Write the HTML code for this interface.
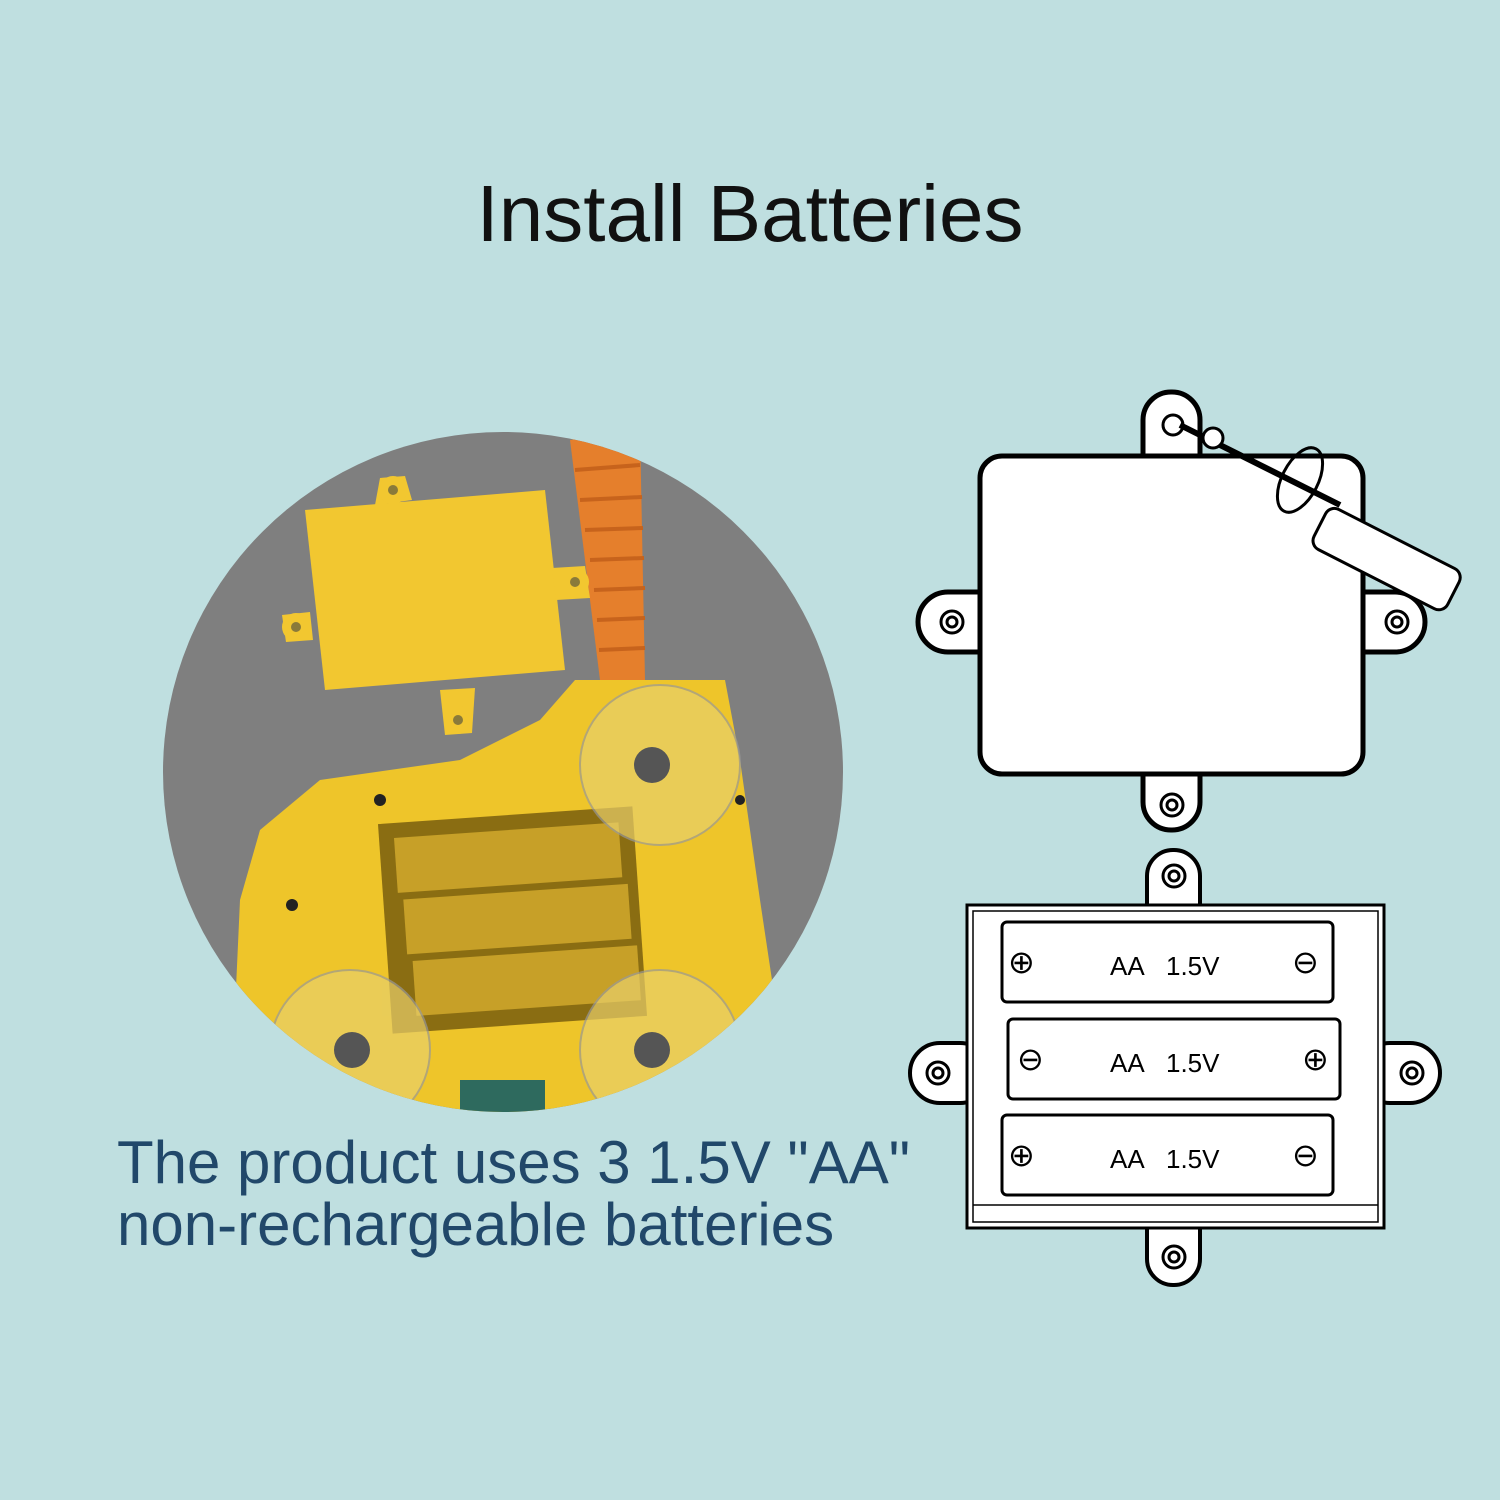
<!DOCTYPE html>
<html><head><style>
html,body{margin:0;padding:0;background:#bfdfe0;}
body{width:1500px;height:1500px;position:relative;overflow:hidden;font-family:"Liberation Sans",sans-serif;}
.t{position:absolute;left:0;width:1500px;text-align:center;top:168px;font-size:80px;color:#111;}
.b{position:absolute;left:117px;top:1132px;font-size:60px;line-height:62px;color:#21486a;}
svg{position:absolute;left:0;top:0}
</style></head><body>
<svg width="1500" height="1500" viewBox="0 0 1500 1500">
<defs><clipPath id="c"><circle cx="503" cy="772" r="340"/></clipPath></defs>
<circle cx="503" cy="772" r="340" fill="#7f7f7f"/>
<g clip-path="url(#c)">
 <path d="M570 440 L640 430 L645 680 L600 680 Z" fill="#e57f2c"/>
 <g stroke="#c7631c" stroke-width="4">
  <line x1="575" y1="470" x2="640" y2="465"/><line x1="580" y1="500" x2="642" y2="497"/>
  <line x1="585" y1="530" x2="643" y2="528"/><line x1="590" y1="560" x2="644" y2="558"/>
  <line x1="594" y1="590" x2="645" y2="588"/><line x1="597" y1="620" x2="645" y2="618"/>
  <line x1="599" y1="650" x2="645" y2="648"/>
 </g>
 <path d="M575 680 L725 680 L740 760 L760 900 L775 1000 L760 1120 L230 1120 L240 900 L260 830 L320 780 L460 760 L540 720 Z" fill="#eec52a"/>
 <rect x="385" y="815" width="255" height="210" fill="#8a6d12" transform="rotate(-4 512 920)"/>
 <rect x="400" y="830" width="225" height="55" fill="#c7a028" transform="rotate(-4 512 920)"/>
 <rect x="405" y="892" width="225" height="55" fill="#c7a028" transform="rotate(-4 512 920)"/>
 <rect x="410" y="954" width="225" height="55" fill="#c7a028" transform="rotate(-4 512 920)"/>
 <path d="M460 1080 L545 1080 L545 1120 L460 1120 Z" fill="#2e6a5e"/>
 <circle cx="660" cy="765" r="80" fill="#e8cf6a" opacity="0.7" stroke="#999" stroke-width="2"/>
 <circle cx="350" cy="1050" r="80" fill="#e8cf6a" opacity="0.7" stroke="#999" stroke-width="2"/>
 <circle cx="660" cy="1050" r="80" fill="#e8cf6a" opacity="0.7" stroke="#999" stroke-width="2"/>
 <circle cx="652" cy="765" r="18" fill="#555"/><circle cx="352" cy="1050" r="18" fill="#555"/><circle cx="652" cy="1050" r="18" fill="#555"/>
 <g fill="#222"><circle cx="380" cy="800" r="6"/><circle cx="292" cy="905" r="6"/><circle cx="740" cy="800" r="5"/></g>
 <path d="M305 510 L545 490 L565 670 L325 690 Z" fill="#f2c730"/>
 <path d="M375 505 L380 478 L405 476 L412 500 Z" fill="#f2c730"/>
 <path d="M552 568 L585 566 L590 598 L556 600 Z" fill="#f2c730"/>
 <path d="M310 612 L282 615 L286 642 L313 640 Z" fill="#f2c730"/>
 <path d="M440 690 L475 688 L472 733 L445 735 Z" fill="#f2c730"/>
 <circle cx="393" cy="490" r="14" fill="#f2c730"/><circle cx="575" cy="582" r="14" fill="#f2c730"/>
 <circle cx="296" cy="627" r="14" fill="#f2c730"/><circle cx="458" cy="720" r="14" fill="#f2c730"/>
 <g fill="#8a7a3a"><circle cx="393" cy="490" r="5"/><circle cx="575" cy="582" r="5"/><circle cx="296" cy="627" r="5"/><circle cx="458" cy="720" r="5"/></g>
</g>
<g stroke="#000" stroke-width="5" fill="#fff">
 <rect x="1143" y="392" width="57" height="100" rx="28"/>
 <rect x="918" y="592" width="100" height="60" rx="30"/>
 <rect x="1325" y="592" width="100" height="60" rx="30"/>
 <rect x="1143" y="740" width="57" height="90" rx="28"/>
</g>
<rect x="980" y="456" width="383" height="318" rx="22" fill="#fff" stroke="#000" stroke-width="5"/>
<g fill="none" stroke="#000" stroke-width="3">
 <circle cx="952" cy="622" r="11"/><circle cx="952" cy="622" r="5"/>
 <circle cx="1397" cy="622" r="11"/><circle cx="1397" cy="622" r="5"/>
 <circle cx="1172" cy="805" r="11"/><circle cx="1172" cy="805" r="5"/>
 <circle cx="1173" cy="425" r="10"/>
</g>
<g stroke="#000" stroke-width="3">
 <line x1="1180" y1="425" x2="1340" y2="505" stroke-width="6"/>
 <rect x="1330" y="505" width="150" height="45" rx="10" fill="#fff" transform="rotate(27 1330 505)"/>
 <ellipse cx="1300" cy="480" rx="18" ry="35" fill="none" transform="rotate(27 1300 480)"/>
 <circle cx="1213" cy="438" r="10" fill="#fff"/>
</g>
<g stroke="#000" stroke-width="4" fill="#fff">
 <rect x="1147" y="850" width="53" height="80" rx="26"/>
 <rect x="910" y="1043" width="80" height="60" rx="30"/>
 <rect x="1360" y="1043" width="80" height="60" rx="30"/>
 <rect x="1147" y="1200" width="53" height="85" rx="26"/>
</g>
<rect x="967" y="905" width="417" height="323" fill="#fff" stroke="#000" stroke-width="3"/>
<rect x="973" y="911" width="405" height="311" fill="none" stroke="#000" stroke-width="1.5"/>
<line x1="973" y1="1205" x2="1378" y2="1205" stroke="#000" stroke-width="1.5"/>
<g fill="none" stroke="#000" stroke-width="3">
 <circle cx="1174" cy="876" r="11"/><circle cx="1174" cy="876" r="5"/>
 <circle cx="938" cy="1073" r="11"/><circle cx="938" cy="1073" r="5"/>
 <circle cx="1412" cy="1073" r="11"/><circle cx="1412" cy="1073" r="5"/>
 <circle cx="1174" cy="1257" r="11"/><circle cx="1174" cy="1257" r="5"/>
</g>
<g fill="#fff" stroke="#000" stroke-width="3">
 <rect x="1002" y="922" width="331" height="80" rx="5"/>
 <rect x="1008" y="1019" width="332" height="80" rx="5"/>
 <rect x="1002" y="1115" width="331" height="80" rx="5"/>
</g>
<g font-family="Liberation Sans" font-size="26" fill="#000">
 <text x="1110" y="975">AA</text><text x="1166" y="975">1.5V</text>
 <text x="1110" y="1072">AA</text><text x="1166" y="1072">1.5V</text>
 <text x="1110" y="1168">AA</text><text x="1166" y="1168">1.5V</text>
 <text x="1008" y="973" font-size="32">⊕</text><text x="1292" y="973" font-size="32">⊖</text>
 <text x="1017" y="1070" font-size="32">⊖</text><text x="1302" y="1070" font-size="32">⊕</text>
 <text x="1008" y="1166" font-size="32">⊕</text><text x="1292" y="1166" font-size="32">⊖</text>
</g>
</svg>
<div class="t">Install Batteries</div>
<div class="b">The product uses 3 1.5V "AA"<br>non-rechargeable batteries</div>
</body></html>
